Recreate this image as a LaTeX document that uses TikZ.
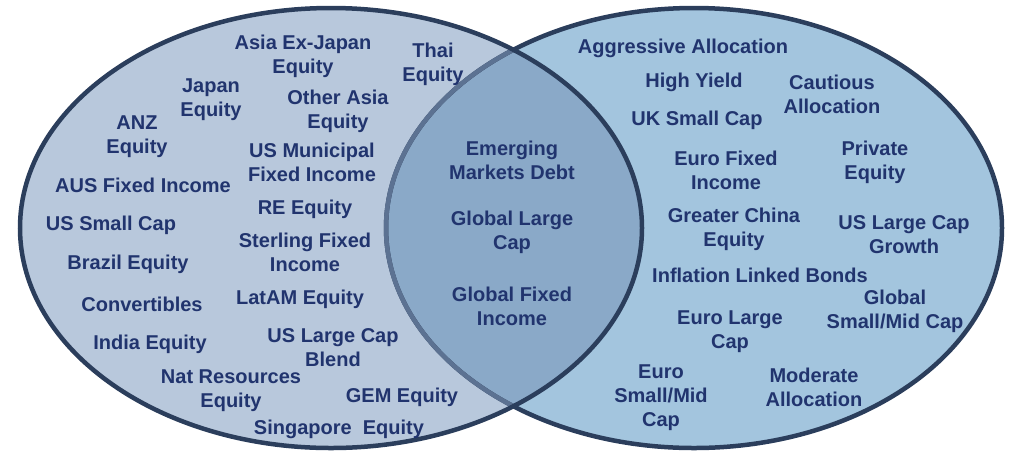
\documentclass[tikz,border=0pt]{standalone}
\usepackage{fontspec}
\setmainfont{Liberation Sans}
\definecolor{navytext}{RGB}{33,52,110}
\definecolor{rimdark}{RGB}{43,62,92}
\definecolor{rimlight}{RGB}{92,114,146}
\definecolor{leftfill}{RGB}{184,200,220}
\definecolor{rightfill}{RGB}{163,197,222}
\definecolor{bothfill}{RGB}{138,169,200}
\tikzset{
  fund/.style={text=navytext, font=\fontsize{20}{24}\selectfont\bfseries, align=center, inner sep=0pt, yshift=-2pt},
  rim/.style={line width=4.5pt, draw=rimdark},
}
\begin{document}
\begin{tikzpicture}[x=1pt,y=-1pt]
\useasboundingbox (0,0) rectangle (1011,451);
\coordinate (lc) at (331,228);
\coordinate (rc) at (694,228);
\fill[leftfill] (lc) ellipse [x radius=311, y radius=220];
\fill[rightfill] (rc) ellipse [x radius=308, y radius=220];
\begin{scope}
  \clip (lc) ellipse [x radius=311, y radius=220];
  \fill[bothfill] (rc) ellipse [x radius=308, y radius=220];
\end{scope}
\draw[rim] (rc) ellipse [x radius=308, y radius=220];
\begin{scope}
  \clip (lc) ellipse [x radius=309, y radius=218];
  \draw[rim, draw=rimlight] (rc) ellipse [x radius=308, y radius=220];
\end{scope}
\draw[rim] (lc) ellipse [x radius=311, y radius=220];

% left circle only
\node[fund] (asiaxjp) at (303,54) {Asia Ex-Japan\\Equity};
\node[fund] (thai) at (433,62) {Thai\\Equity};
\node[fund] (japan) at (211,98) {Japan\\Equity};
\node[fund] (othasia) at (338,109) {Other Asia\\Equity};
\node[fund] (anz) at (137,135) {ANZ\\Equity};
\node[fund] (usmuni) at (312,160) {US Municipal\\Fixed Income};
\node[fund] (ausfi) at (143,183) {AUS Fixed Income};
\node[fund] (reeq) at (305,207) {RE Equity};
\node[fund] (ussmall) at (111,223) {US Small Cap};
\node[fund] (sterfi) at (305,250) {Sterling Fixed\\Income};
\node[fund] (brazil) at (128,262) {Brazil Equity};
\node[fund] (latam) at (300,297) {LatAM Equity};
\node[fund] (convert) at (142,302) {Convertibles};
\node[fund] (india) at (150,342) {India Equity};
\node[fund] (uslcblend) at (333,346) {US Large Cap\\Blend};
\node[fund] (natres) at (231,389) {Nat Resources\\Equity};
\node[fund] (gem) at (402,395) {GEM Equity};
\node[fund] (singap) at (339,427) {Singapore\ \ Equity};

% overlap
\node[fund] (emdebt) at (512,158) {Emerging\\Markets Debt};
\node[fund] (glc) at (512,230) {Global Large\\Cap};
\node[fund] (gfi) at (512,304) {Global Fixed\\Income};

% right circle only
\node[fund] (aggr) at (683,46) {Aggressive Allocation};
\node[fund] (hiyield) at (694,80) {High Yield};
\node[fund] (caut) at (832,92) {Cautious\\Allocation};
\node[fund] (uksmall) at (697,118) {UK Small Cap};
\node[fund] (eurofi) at (726,168) {Euro Fixed\\Income};
\node[fund] (priv) at (875,160) {Private\\Equity};
\node[fund] (grchina) at (734,227) {Greater China\\Equity};
\node[fund] (uslcgrowth) at (904,233) {US Large Cap\\Growth};
\node[fund] (infl) at (760,273) {Inflation Linked Bonds};
\node[fund] (gsmid) at (895,309) {Global\\Small/Mid Cap};
\node[fund] (eurolc) at (730,330) {Euro Large\\Cap};
\node[fund] (eursmid) at (661,396) {Euro\\Small/Mid\\Cap};
\node[fund] (moder) at (814,385) {Moderate\\Allocation};
\end{tikzpicture}
\end{document}
